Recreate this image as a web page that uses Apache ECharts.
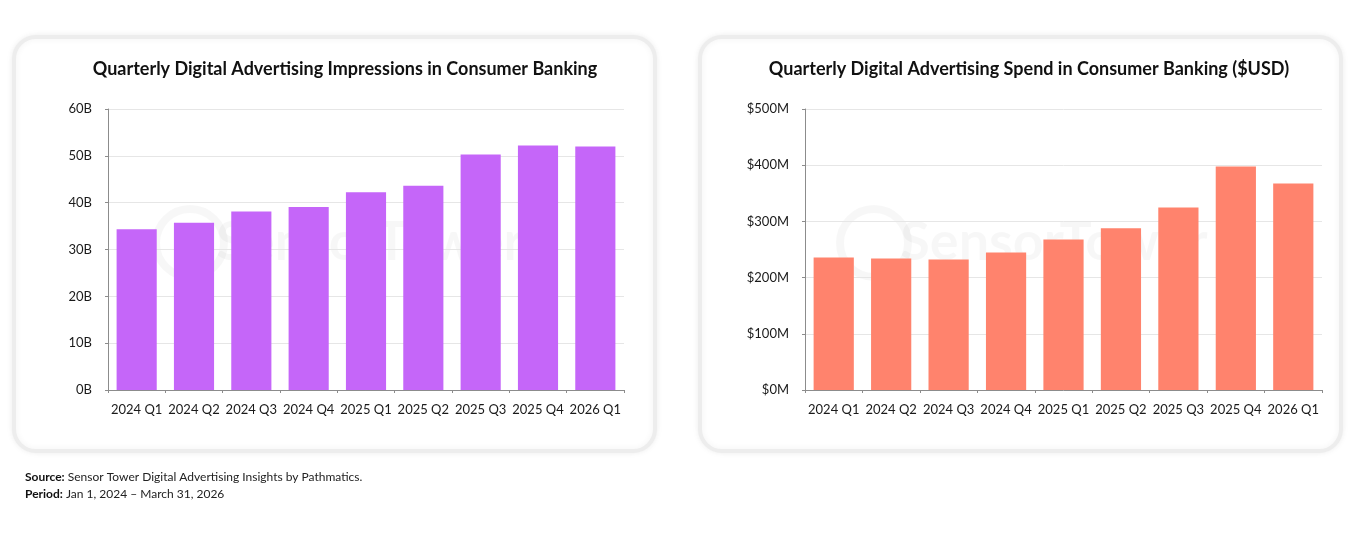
<!DOCTYPE html>
<html>
<head>
<meta charset="utf-8">
<script src="https://cdn.jsdelivr.net/npm/echarts@6/dist/echarts.min.js"></script>
<style>
  html, body { margin: 0; padding: 0; background: #fff; }
  #main { width: 1350px; height: 535px; }
</style>
</head>
<body>
<div id="main"></div>
<script>
// quarters shared by both charts
const quarters = ['2024 Q1', '2024 Q2', '2024 Q3', '2024 Q4', '2025 Q1', '2025 Q2', '2025 Q3', '2025 Q4', '2026 Q1'];
// impressions, billions
const impressions = [34.3, 35.7, 38.1, 39.1, 42.2, 43.6, 50.3, 52.2, 52.0];
// spend, millions USD
const spend = [235.7, 234, 232, 244.6, 267.8, 288, 324.8, 397.8, 367.5];

const leftTitle = 'Quarterly Digital Advertising Impressions in Consumer Banking';
const rightTitle = 'Quarterly Digital Advertising Spend in Consumer Banking ($USD)';

const FONT = 'Lato, "Noto Sans", sans-serif';
const chart = echarts.init(document.getElementById('main'));

// shared axis look
const catAxis = (idx) => ({
  type: 'category',
  gridIndex: idx,
  data: quarters,
  axisLine: { lineStyle: { color: '#8c8c8c' } },
  axisTick: { show: true, length: 3, lineStyle: { color: '#8c8c8c' } },
  axisLabel: { color: '#1a1a1a', fontSize: 13, fontFamily: FONT, margin: 13, interval: 0 }
});
const valAxis = (idx, max, interval, fmt) => ({
  type: 'value',
  gridIndex: idx,
  min: 0, max: max, interval: interval,
  axisLine: { show: true, lineStyle: { color: '#8c8c8c' } },
  axisTick: { show: true, length: 3, lineStyle: { color: '#8c8c8c' } },
  splitLine: { lineStyle: { color: '#e6e6e6' } },
  axisLabel: { color: '#1a1a1a', fontSize: 13, fontFamily: FONT, margin: 16, formatter: fmt }
});

const card = (x) => ({
  type: 'rect',
  z: -10,
  shape: { x: x, y: 37, width: 641, height: 414, r: 22 },
  style: { fill: '#fff', stroke: '#ededed', lineWidth: 4, shadowBlur: 6, shadowColor: 'rgba(0,0,0,0.06)' }
});
const watermark = (cx) => ({
  type: 'group',
  z: -5,
  children: [
    { type: 'circle', shape: { cx: cx - 150, cy: 243, r: 34 }, style: { fill: 'none', stroke: 'rgba(0,0,0,0.03)', lineWidth: 8 } },
    { type: 'text', style: { x: cx + 30, y: 243, text: 'SensorTower', fontSize: 54, fontWeight: 'bold', fontFamily: FONT,
      fill: 'rgba(0,0,0,0.03)', align: 'center', verticalAlign: 'middle' } }
  ]
});

chart.setOption({
  animation: false,
  backgroundColor: '#fff',
  title: [
    { text: leftTitle, left: 340, top: 55, textAlign: 'center',
      textStyle: { fontSize: 18, fontWeight: 'bold', color: '#111', fontFamily: FONT } },
    { text: rightTitle, left: 1024, top: 55, textAlign: 'center',
      textStyle: { fontSize: 18, fontWeight: 'bold', color: '#111', fontFamily: FONT } }
  ],
  grid: [
    { left: 108, top: 109, width: 516, height: 281 },
    { left: 805, top: 109, width: 517, height: 281 }
  ],
  xAxis: [catAxis(0), catAxis(1)],
  yAxis: [
    valAxis(0, 60, 10, v => v + 'B'),
    valAxis(1, 500, 100, v => '$' + v + 'M')
  ],
  series: [
    { type: 'bar', xAxisIndex: 0, yAxisIndex: 0, data: impressions, barWidth: '70%',
      itemStyle: { color: '#c566f9' } },
    { type: 'bar', xAxisIndex: 1, yAxisIndex: 1, data: spend, barWidth: '70%',
      itemStyle: { color: '#ff836d' } }
  ],
  graphic: [
    card(14), card(700),
    watermark(340), watermark(1024),
    { type: 'text', left: 25, top: 471,
      style: { text: '{b|Source:} Sensor Tower Digital Advertising Insights by Pathmatics.', fontFamily: FONT, fontSize: 12, fill: '#222',
        rich: { b: { fontWeight: 'bold', fontFamily: FONT, fontSize: 12, fill: '#111' } } } },
    { type: 'text', left: 25, top: 488,
      style: { text: '{b|Period:} Jan 1, 2024 – March 31, 2026', fontFamily: FONT, fontSize: 12, fill: '#222',
        rich: { b: { fontWeight: 'bold', fontFamily: FONT, fontSize: 12, fill: '#111' } } } }
  ]
});
</script>
</body>
</html>
